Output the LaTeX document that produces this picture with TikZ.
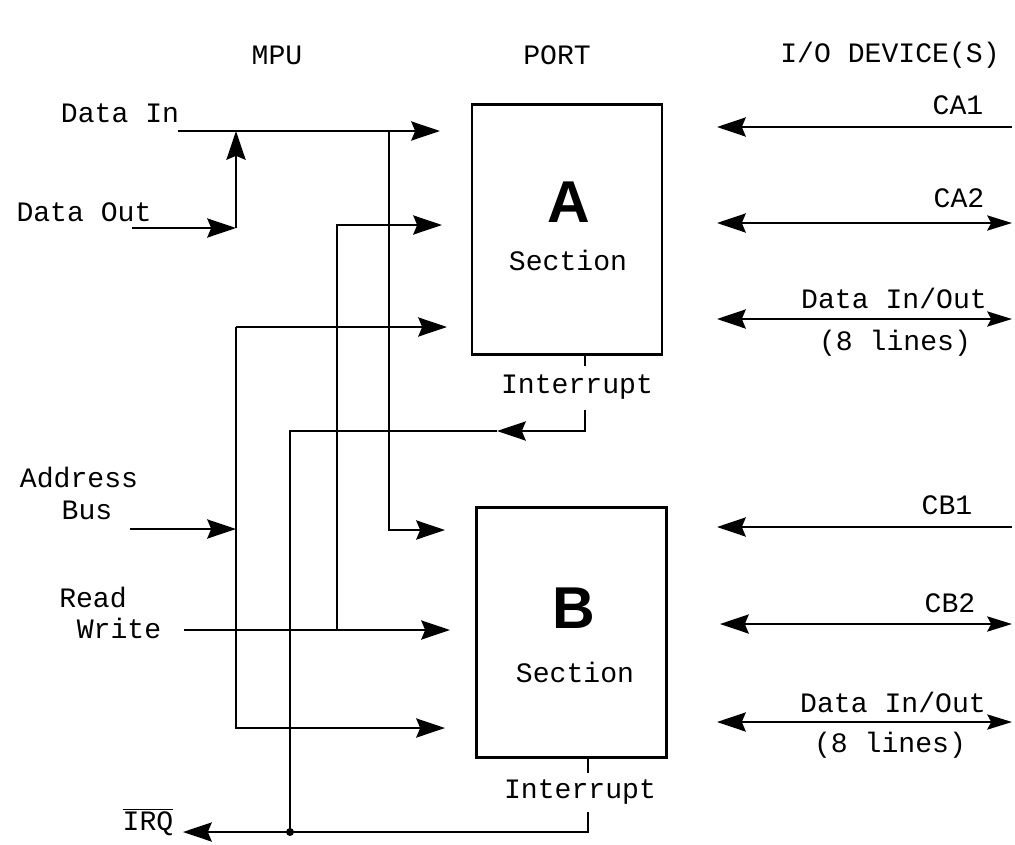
\documentclass[tikz,border=0pt]{standalone}
\usepackage{fontspec}
\setmonofont{Liberation Mono}
\newfontfamily\letterfont{Liberation Sans}
\usepackage{tikz}
\usetikzlibrary{arrows.meta}

\tikzset{
  lbl/.style={font=\ttfamily\fontsize{20}{24}\selectfont, inner sep=0pt},
  letter/.style={font=\letterfont\bfseries\fontsize{42}{42}\selectfont, inner sep=0pt},
  section/.style={draw, line width=1.5pt, minimum width=4.75cm, minimum height=6.25cm, inner sep=0pt},
  wire/.style={line width=1.4pt},
  sig/.style={wire, -{Stealth[length=0.72cm,width=0.48cm,inset=0.1cm]}},
  bisig/.style={wire, {Stealth[length=0.72cm,width=0.48cm,inset=0.1cm]}-{Stealth[length=0.62cm,width=0.38cm,inset=0.1cm]}}
}

\begin{document}
\begin{tikzpicture}
    \useasboundingbox (0,0) rectangle (25.375,-21.1);

    \node[lbl] (mpu) at (6.925,-1.375) {MPU};
    \node[lbl] (port) at (13.925,-1.375) {PORT};
    \node[lbl] (io) at (22.25,-1.375) {I/O DEVICE(S)};

    \node[section] (secA) at (14.175,-5.7375) {};
    \node[section] (secB) at (14.2875,-15.8125) {};
    \node[letter] (letA) at (14.225,-5.05) {A};
    \node[lbl] (secAtxt) at (14.2,-6.5) {Section};
    \node[letter] (letB) at (14.35,-15.2) {B};
    \node[lbl] (secBtxt) at (14.375,-16.8) {Section};
    \node[lbl] (intA) at (14.425,-9.675) {Interrupt};
    \node[lbl] (intB) at (14.5,-19.8) {Interrupt};

    \node[lbl] (datain) at (3.0,-2.825) {Data In};
    \node[lbl] (dataout) at (2.1,-5.3) {Data Out};
    \node[lbl] (addr) at (1.975,-11.925) {Address};
    \node[lbl] (bus) at (2.175,-12.75) {Bus};
    \node[lbl] (read) at (2.325,-14.925) {Read};
    \node[lbl] (write) at (2.975,-15.7) {Write};
    \node[lbl] (irq) at (3.7,-20.55) {$\overline{\hbox{IRQ}}$};

    \node[lbl] (ca1) at (23.95,-2.625) {CA1};
    \node[lbl] (ca2) at (23.975,-4.95) {CA2};
    \node[lbl] (dioA) at (22.35,-7.45) {Data In/Out};
    \node[lbl] (linesA) at (22.375,-8.575) {(8 lines)};
    \node[lbl] (cb1) at (23.675,-12.625) {CB1};
    \node[lbl] (cb2) at (23.75,-15.075) {CB2};
    \node[lbl] (dioB) at (22.325,-17.55) {Data In/Out};
    \node[lbl] (linesB) at (22.25,-18.625) {(8 lines)};

    \coordinate (diS) at (4.45,-3.275);
    \coordinate (diJ) at (5.9,-3.275);
    \coordinate (diK) at (9.725,-3.275);
    \coordinate (inA1) at (11.0,-3.275);
    \coordinate (doS) at (3.3,-5.7);
    \coordinate (doC) at (5.9,-5.7);
    \coordinate (diL) at (9.725,-13.25);
    \coordinate (inB1) at (11.125,-13.25);
    \coordinate (rwS) at (4.6,-15.75);
    \coordinate (rwK) at (8.425,-15.75);
    \coordinate (inB2) at (11.25,-15.75);
    \coordinate (rwT) at (8.425,-5.625);
    \coordinate (inA2) at (11.05,-5.625);
    \coordinate (abS) at (3.25,-13.225);
    \coordinate (abJ) at (5.9,-13.225);
    \coordinate (abT) at (5.9,-8.175);
    \coordinate (inA3) at (11.175,-8.175);
    \coordinate (abB) at (5.9,-18.2);
    \coordinate (inB3) at (11.125,-18.2);

    \coordinate (tkA1) at (14.625,-8.875);
    \coordinate (tkA2) at (14.625,-9.15);
    \coordinate (irA1) at (14.625,-10.25);
    \coordinate (irA2) at (14.625,-10.775);
    \coordinate (irA3) at (12.425,-10.775);
    \coordinate (irA4) at (7.25,-10.775);
    \coordinate (tkB1) at (14.7,-18.925);
    \coordinate (tkB2) at (14.7,-19.325);
    \coordinate (irB1) at (14.7,-20.3);
    \coordinate (irB2) at (14.7,-20.8);
    \coordinate (irqT) at (4.575,-20.8);
    \coordinate (irqJ) at (7.25,-20.8);

    \coordinate (ca1L) at (17.925,-3.175);
    \coordinate (ca1R) at (25.3,-3.175);
    \coordinate (ca2L) at (17.925,-5.575);
    \coordinate (ca2R) at (25.3,-5.575);
    \coordinate (dioAL) at (17.925,-7.975);
    \coordinate (dioAR) at (25.3,-7.975);
    \coordinate (cb1L) at (17.925,-13.175);
    \coordinate (cb1R) at (25.3,-13.175);
    \coordinate (cb2L) at (18.0,-15.6);
    \coordinate (cb2R) at (25.3,-15.6);
    \coordinate (dioBL) at (17.925,-18.05);
    \coordinate (dioBR) at (25.3,-18.05);

    \draw[sig] (diS) -- (inA1);
    \draw[sig] (doS) -- (doC);
    \draw[sig] (doC) -- (diJ);
    \draw[sig] (diK) -- (diL) -- (inB1);
    \draw[sig] (rwS) -- (inB2);
    \draw[sig] (rwK) -- (rwT) -- (inA2);
    \draw[sig] (abS) -- (abJ);
    \draw[sig] (abT) -| (abB) -- (inB3);
    \draw[sig] (abT) -- (inA3);

    \draw[wire] (tkA1) -- (tkA2);
    \draw[sig] (irA1) -- (irA2) -- (irA3);
    \draw[wire] (irA3) -- (irA4) -- (irqJ);
    \draw[wire] (tkB1) -- (tkB2);
    \draw[sig] (irB1) -- (irB2) -- (irqT);
    \fill (irqJ) circle (0.1);

    \draw[sig] (ca1R) -- (ca1L);
    \draw[bisig] (ca2L) -- (ca2R);
    \draw[bisig] (dioAL) -- (dioAR);
    \draw[sig] (cb1R) -- (cb1L);
    \draw[bisig] (cb2L) -- (cb2R);
    \draw[bisig] (dioBL) -- (dioBR);
\end{tikzpicture}
\end{document}
